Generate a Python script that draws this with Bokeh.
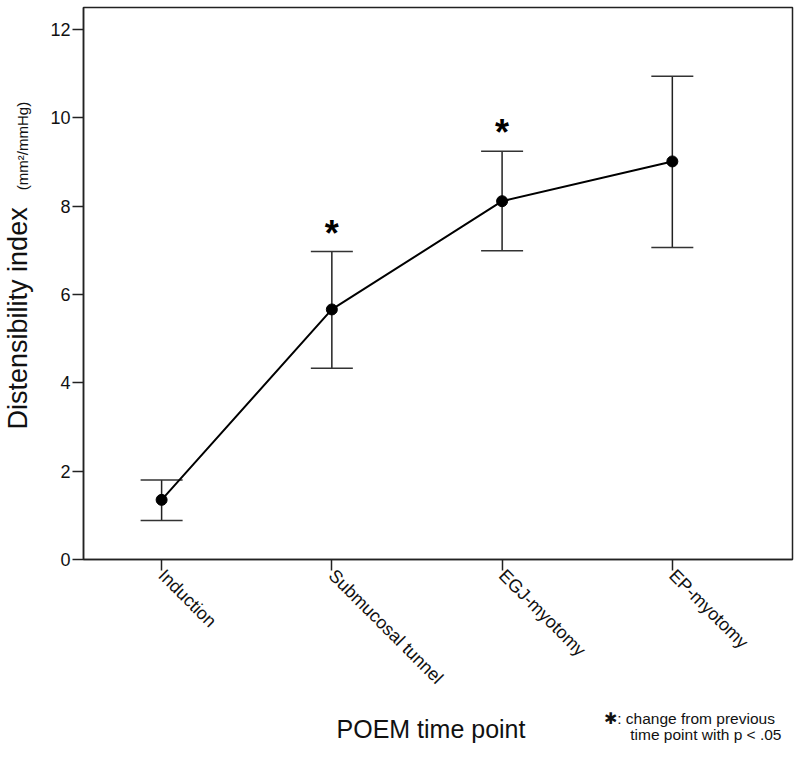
import math
from bokeh.plotting import figure
from bokeh.models import (ColumnDataSource, Whisker, TeeHead, Label, FixedTicker,
                          Range1d)
from bokeh.core.properties import value
from bokeh.embed import file_html
from bokeh.resources import INLINE

categories = ["Induction", "Submucosal tunnel", "EGJ-myotomy", "EP-myotomy"]
means = [1.35, 5.66, 8.11, 9.01]
lower = [0.88, 4.33, 6.99, 7.06]
upper = [1.80, 6.97, 9.24, 10.94]
significant = [False, True, True, False]
y_ticks = [0, 2, 4, 6, 8, 10, 12]

FONT = "Liberation Sans"
W, H = 800, 759
ML, MR, MT, MB = 77, 8, 7, 196
PXX, PXY = 170.0, 44.5          # reference pixels per data unit
FRAME_LEFT = 84                 # left panel grows to hold the y-axis titles
FRAME_BOTTOM = 563
X0, X1 = 0.5 + (FRAME_LEFT - 77) / PXX, 0.5 + 715 / PXX
Y0, Y1 = 0.0, 556 / PXY

xs = list(range(1, len(categories) + 1))
src = ColumnDataSource(dict(x=xs, mean=means, lower=lower, upper=upper))

p = figure(width=W, height=H, output_backend="svg", toolbar_location=None,
           x_range=Range1d(X0, X1), y_range=Range1d(Y0, Y1),
           min_border_left=ML, min_border_right=MR, min_border_top=MT,
           min_border_bottom=MB)
p.background_fill_color = "white"
p.border_fill_color = "white"
p.outline_line_color = "#222222"
p.outline_line_width = 1.5
p.grid.visible = False


def dx(px):
    return 0.5 + (px - 77) / PXX


def dy(py):
    return (563 - py) / PXY


# axes
p.xaxis.ticker = FixedTicker(ticks=xs)
p.xaxis.major_label_overrides = {i: c for i, c in zip(xs, categories)}
p.xaxis.major_label_orientation = -math.pi / 4
p.yaxis.ticker = FixedTicker(ticks=y_ticks)
for ax in (p.xaxis, p.yaxis):
    ax.axis_line_color = "#222222"
    ax.axis_line_width = 1.5
    ax.major_tick_line_color = "#222222"
    ax.major_tick_line_width = 1.5
    ax.major_tick_out = 11
    ax.major_tick_in = 0
    ax.minor_tick_line_color = None
    ax.major_label_text_font = FONT
    ax.major_label_text_color = "#111111"
    ax.major_label_standoff = 2
p.yaxis.major_label_text_font_size = "18px"
p.xaxis.major_label_text_font_size = "18px"

# error bars
w = Whisker(source=src, base="x", upper="upper", lower="lower", dimension="height",
            line_color="#222222", line_width=1.5,
            upper_head=TeeHead(size=42, line_color="#333333", line_width=1.5),
            lower_head=TeeHead(size=42, line_color="#333333", line_width=1.5))
p.add_layout(w)

# line and points
p.line("x", "mean", source=src, line_color="black", line_width=2)
p.scatter("x", "mean", source=src, size=11, fill_color="black", line_color="black")

# significance stars
star_x = [x for x, s in zip(xs, significant) if s]
star_y = [u + 0.42 for u, s in zip(upper, significant) if s]
p.text(star_x, star_y, text=["*"] * len(star_x), text_font=value(FONT),
       text_font_size="36px", text_font_style="bold", text_align="center",
       text_baseline="middle", text_color="black")

MID = 0.3465  # label anchor sits this many font sizes above the baseline


def side_label(side, px, py, text, size, rotated=False, **kw):
    if rotated:
        px = px - MID * size
    else:
        py = py - MID * size
    lab = Label(x=dx(px), y=dy(py), x_units="data", y_units="data", text=text,
                text_font=FONT, text_font_size=f"{size}px", text_color="#111111",
                text_baseline="alphabetic",
                angle=math.pi / 2 if rotated else 0, **kw)
    p.add_layout(lab, side)


# y axis label (two sizes)
side_label("left", 28, 432, "Distensibility index", 27, rotated=True, text_align="left")
side_label("left", 28, 191, "(mm\u00b2/mmHg)", 15, rotated=True, text_align="left")

# x axis label
side_label("below", 431, 742, "POEM time point", 25, text_align="center")

# footnote
side_label("below", 604, 729, "\u2731: change from previous", 15.5, text_align="left")
side_label("below", 630, 745, "time point with p < .05", 15.5, text_align="left")

open("out.html", "w").write(file_html(p, INLINE))
